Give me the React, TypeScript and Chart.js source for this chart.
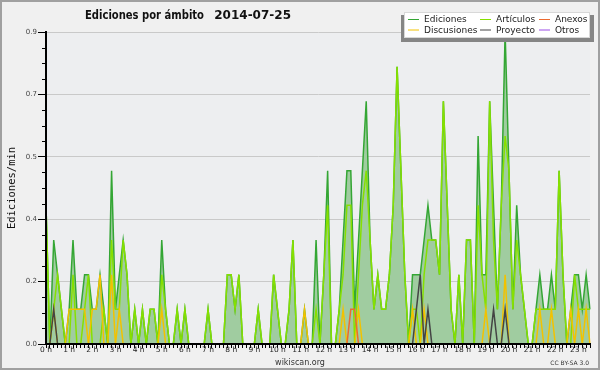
import React, { useEffect, useRef } from "react";
import { Chart, registerables } from "chart.js";

Chart.register(...registerables);

const TITLE = "Ediciones por ámbito";
const DATE = "2014-07-25";
const Y_TITLE = "Ediciones/min";
const FOOTER = "wikiscan.org";
const LICENSE = "CC BY-SA 3.0";

const HOURS = [0, 1, 2, 3, 4, 5, 6, 7, 8, 9, 10, 11, 12, 13, 14, 15, 16, 17, 18, 19, 20, 21, 22, 23];
const MINUTES = [0, 10, 20, 30, 40, 50];

const Y_MAX = 0.9;
const Y_STEP = 0.18;

// edits per minute, one value per 10-minute slot
const ediciones = [
  0.4, 0, 0.3, 0.2, 0.1, 0,
  0.1, 0.3, 0.1, 0.1, 0.2, 0.2,
  0.1, 0.1, 0.2, 0.1, 0, 0.5,
  0.1, 0.2, 0.3, 0.2, 0, 0.1,
  0, 0.1, 0, 0.1, 0.1, 0,
  0.3, 0.1, 0, 0, 0.1, 0,
  0.1, 0, 0, 0, 0, 0,
  0.1, 0, 0, 0, 0, 0.2,
  0.2, 0.1, 0.2, 0, 0, 0,
  0, 0.1, 0, 0, 0, 0.2,
  0.1, 0, 0, 0.1, 0.3, 0,
  0, 0.1, 0, 0, 0.3, 0,
  0.2, 0.5, 0, 0, 0.1, 0.3,
  0.5, 0.5, 0.1, 0.3, 0.5, 0.7,
  0.3, 0.1, 0.2, 0.1, 0.1, 0.2,
  0.4, 0.8, 0.5, 0.2, 0, 0.2,
  0.2, 0.2, 0.3, 0.4, 0.3, 0.3,
  0.2, 0.7, 0.4, 0.1, 0, 0.2,
  0, 0.3, 0.3, 0, 0.6, 0.2,
  0.2, 0.7, 0.4, 0.1, 0.4, 0.9,
  0.5, 0.1, 0.4, 0.2, 0.1, 0,
  0, 0.1, 0.2, 0.1, 0.1, 0.2,
  0.1, 0.5, 0.2, 0, 0.1, 0.2,
  0.2, 0.1, 0.2, 0.1,
];

const articulos = [
  0.4, 0, 0.1, 0.2, 0.1, 0,
  0, 0.2, 0, 0, 0.1, 0.2,
  0, 0, 0, 0.1, 0, 0.3,
  0.1, 0.1, 0.3, 0.2, 0, 0.1,
  0, 0.1, 0, 0.1, 0.1, 0,
  0.2, 0.1, 0, 0, 0.1, 0,
  0.1, 0, 0, 0, 0, 0,
  0.1, 0, 0, 0, 0, 0.2,
  0.2, 0.1, 0.2, 0, 0, 0,
  0, 0.1, 0, 0, 0, 0.2,
  0.1, 0, 0, 0.1, 0.3, 0,
  0, 0, 0, 0, 0.1, 0,
  0.2, 0.4, 0, 0, 0.1, 0.2,
  0.4, 0.4, 0, 0.2, 0.4, 0.5,
  0.3, 0.1, 0.2, 0.1, 0.1, 0.2,
  0.4, 0.8, 0.5, 0.2, 0, 0.1,
  0.1, 0, 0.2, 0.3, 0.3, 0.3,
  0.2, 0.7, 0.4, 0.1, 0, 0.2,
  0, 0.3, 0.3, 0, 0.4, 0.2,
  0.1, 0.7, 0.3, 0.1, 0.4, 0.6,
  0.5, 0.1, 0.3, 0.2, 0.1, 0,
  0, 0.1, 0.1, 0.1, 0.1, 0.1,
  0.1, 0.5, 0.2, 0, 0, 0.2,
  0.1, 0.1, 0.1, 0.1,
];

const anexos = [
  0, 0, 0, 0, 0, 0,
  0, 0, 0, 0, 0, 0,
  0, 0, 0, 0, 0, 0,
  0, 0, 0, 0, 0, 0,
  0, 0, 0, 0, 0, 0,
  0, 0, 0, 0, 0, 0,
  0, 0, 0, 0, 0, 0,
  0, 0, 0, 0, 0, 0,
  0, 0, 0, 0, 0, 0,
  0, 0, 0, 0, 0, 0,
  0, 0, 0, 0, 0, 0,
  0, 0, 0, 0, 0, 0,
  0, 0, 0, 0, 0, 0,
  0, 0.1, 0.1, 0, 0, 0,
  0, 0, 0, 0, 0, 0,
  0, 0, 0, 0, 0, 0,
  0, 0, 0, 0, 0, 0,
  0, 0, 0, 0, 0, 0,
  0, 0, 0, 0, 0, 0,
  0, 0, 0, 0, 0, 0,
  0, 0, 0, 0, 0, 0,
  0, 0, 0, 0, 0, 0,
  0, 0, 0, 0, 0, 0,
  0, 0, 0, 0,
];

const discusiones = [
  0, 0, 0.1, 0, 0, 0,
  0.1, 0.1, 0.1, 0.1, 0.1, 0,
  0.1, 0.1, 0.2, 0, 0, 0.2,
  0, 0.1, 0, 0, 0, 0,
  0, 0, 0, 0, 0, 0,
  0.1, 0, 0, 0, 0, 0,
  0, 0, 0, 0, 0, 0,
  0, 0, 0, 0, 0, 0,
  0, 0, 0, 0, 0, 0,
  0, 0, 0, 0, 0, 0,
  0, 0, 0, 0, 0, 0,
  0, 0.1, 0, 0, 0, 0,
  0, 0, 0, 0, 0, 0.1,
  0, 0, 0, 0.1, 0, 0,
  0, 0, 0, 0, 0, 0,
  0, 0, 0, 0, 0, 0.1,
  0, 0, 0.1, 0, 0, 0,
  0, 0, 0, 0, 0, 0,
  0, 0, 0, 0, 0, 0,
  0.1, 0, 0, 0, 0, 0.2,
  0, 0, 0, 0, 0, 0,
  0, 0, 0.1, 0, 0, 0.1,
  0, 0, 0, 0, 0.1, 0,
  0.1, 0, 0.1, 0,
];

const proyecto = [
  0, 0, 0.1, 0, 0, 0,
  0, 0, 0, 0, 0, 0,
  0, 0, 0, 0, 0, 0,
  0, 0, 0, 0, 0, 0,
  0, 0, 0, 0, 0, 0,
  0, 0, 0, 0, 0, 0,
  0, 0, 0, 0, 0, 0,
  0, 0, 0, 0, 0, 0,
  0, 0, 0, 0, 0, 0,
  0, 0, 0, 0, 0, 0,
  0, 0, 0, 0, 0, 0,
  0, 0, 0, 0, 0, 0,
  0, 0, 0, 0, 0, 0,
  0, 0, 0, 0, 0, 0,
  0, 0, 0, 0, 0, 0,
  0, 0, 0, 0, 0, 0,
  0.1, 0.2, 0, 0.1, 0, 0,
  0, 0, 0, 0, 0, 0,
  0, 0, 0, 0, 0, 0,
  0, 0, 0.1, 0, 0, 0.1,
  0, 0, 0, 0, 0, 0,
  0, 0, 0, 0, 0, 0,
  0, 0, 0, 0, 0, 0,
  0, 0, 0, 0,
];

const otros = [
  0, 0, 0, 0, 0, 0, 0, 0, 0, 0, 0, 0, 0, 0, 0, 0, 0, 0, 0, 0, 0, 0, 0, 0,
  0, 0, 0, 0, 0, 0, 0, 0, 0, 0, 0, 0, 0, 0, 0, 0, 0, 0, 0, 0, 0, 0, 0, 0,
  0, 0, 0, 0, 0, 0, 0, 0, 0, 0, 0, 0, 0, 0, 0, 0, 0, 0, 0, 0, 0, 0, 0, 0,
  0, 0, 0, 0, 0, 0, 0, 0, 0, 0, 0, 0, 0, 0, 0, 0, 0, 0, 0, 0, 0, 0, 0, 0,
  0, 0, 0, 0, 0, 0, 0, 0, 0, 0, 0, 0, 0, 0, 0, 0, 0, 0, 0, 0, 0, 0, 0, 0,
  0, 0, 0, 0, 0, 0, 0, 0, 0, 0, 0, 0, 0, 0, 0, 0, 0, 0,
];

const SERIES_NAMES = ["Ediciones", "Artículos", "Anexos", "Discusiones", "Proyecto", "Otros"];
const SERIES_COLORS = ["#34a634", "#86e000", "#ec6a30", "#f2c200", "#444444", "#9b4de6"];
const FILL_COLOR = "#a0cca0";

const SLOTS = HOURS.flatMap((h) => MINUTES.map((m) => `${h}:${m < 10 ? "0" + m : m}`)).slice(0, ediciones.length);

function fitText(ctx: CanvasRenderingContext2D, text: string, x: number, y: number, width: number, font: string) {
  ctx.save();
  ctx.font = font;
  ctx.textAlign = "left";
  const w = ctx.measureText(text).width;
  ctx.translate(x, y);
  ctx.scale(width / w, 1);
  ctx.fillText(text, 0, 0);
  ctx.restore();
}

export default function App() {
  const ref = useRef<HTMLCanvasElement>(null);

  useEffect(() => {
    document.body.style.margin = "0";
    const canvas = ref.current;
    if (!canvas) return;

    const decor = {
      id: "decor",
      beforeDraw(chart: any) {
        const { ctx, chartArea: a } = chart;
        ctx.save();
        ctx.fillStyle = "#f0f0f0";
        ctx.fillRect(0, 0, chart.width, chart.height);
        ctx.fillStyle = "#edeef0";
        ctx.fillRect(a.left, a.top, a.right - a.left, a.bottom - a.top);
        ctx.restore();
      },
      afterDraw(chart: any) {
        const { ctx, chartArea: a } = chart;
        const y = chart.scales.y;
        ctx.save();
        // minor y ticks
        ctx.strokeStyle = "#000";
        ctx.lineWidth = 1;
        for (let k = 0; k <= 20; k++) {
          if (k % 4 === 0) continue;
          const py = Math.round(y.getPixelForValue((Y_STEP / 4) * k)) + 0.5;
          ctx.beginPath();
          ctx.moveTo(a.left - 4, py);
          ctx.lineTo(a.left, py);
          ctx.stroke();
        }
        // frame
        ctx.strokeStyle = "#a0a0a0";
        ctx.lineWidth = 2;
        ctx.strokeRect(1, 1, chart.width - 2, chart.height - 2);
        // title
        ctx.fillStyle = "#111";
        ctx.textBaseline = "alphabetic";
        fitText(ctx, TITLE, 85, 18.5, 119, "bold 12px 'DejaVu Sans'");
        ctx.font = "bold 12px 'DejaVu Sans'";
        ctx.textAlign = "right";
        ctx.fillText(DATE, 291, 18.5);
        // y title
        ctx.save();
        ctx.translate(12, 188);
        ctx.rotate(-Math.PI / 2);
        ctx.textAlign = "center";
        ctx.textBaseline = "middle";
        ctx.font = "10.5px 'DejaVu Sans Mono'";
        ctx.fillText(Y_TITLE, 0, 0);
        ctx.restore();
        // legend
        ctx.fillStyle = "#858585";
        ctx.fillRect(401, 15, 193, 27);
        ctx.fillStyle = "#ffffff";
        ctx.fillRect(404, 12, 186, 26);
        ctx.strokeStyle = "#d8d8d8";
        ctx.lineWidth = 1;
        ctx.strokeRect(404.5, 12.5, 185, 25);
        const colX = [408, 480, 539];
        const rowY = [19, 29.5];
        ctx.font = "9px 'DejaVu Sans'";
        ctx.textAlign = "left";
        ctx.textBaseline = "alphabetic";
        SERIES_NAMES.forEach((name, idx) => {
          const cx = colX[idx % 3];
          const ry = rowY[Math.floor(idx / 3)];
          ctx.strokeStyle = SERIES_COLORS[idx];
          ctx.lineWidth = 1;
          ctx.beginPath();
          ctx.moveTo(cx, ry + 0.5);
          ctx.lineTo(cx + 11, ry + 0.5);
          ctx.stroke();
          ctx.fillStyle = "#222";
          ctx.fillText(name, cx + 16, ry + 3.3);
        });
        // footer
        ctx.fillStyle = "#333";
        ctx.font = "8px 'DejaVu Sans'";
        ctx.textAlign = "center";
        ctx.fillText(FOOTER, 300, 364.5);
        ctx.font = "6px 'DejaVu Sans'";
        ctx.textAlign = "right";
        ctx.fillText(LICENSE, 589, 365);
        ctx.restore();
      },
    };

    const mk = (i: number, data: number[], extra: any = {}) => ({
      label: SERIES_NAMES[i],
      data,
      borderColor: SERIES_COLORS[i],
      backgroundColor: SERIES_COLORS[i],
      borderWidth: 1.5,
      pointRadius: 0,
      tension: 0,
      fill: false,
      ...extra,
    });

    const chart = new Chart(canvas, {
      type: "line",
      data: {
        labels: SLOTS,
        datasets: [
          mk(5, otros),
          mk(4, proyecto),
          mk(2, anexos),
          mk(3, discusiones),
          mk(1, articulos),
          mk(0, ediciones, { fill: "origin", backgroundColor: FILL_COLOR }),
        ],
      },
      options: {
        responsive: false,
        devicePixelRatio: 1,
        animation: false,
        layout: { padding: { top: 32, right: 10, left: 0, bottom: 0 } },
        plugins: {
          legend: { display: false },
          title: { display: false },
          tooltip: { enabled: false },
        },
        scales: {
          x: {
            type: "category",
            offset: false,
            grid: { drawOnChartArea: false, drawTicks: true, tickLength: 4, tickColor: "#000", tickWidth: 1 },
            border: { display: true, color: "#000", width: 2, z: 1 },
            ticks: {
              autoSkip: false,
              maxRotation: 0,
              minRotation: 0,
              padding: -2,
              color: "#222",
              font: { family: "DejaVu Sans", size: 7.5 },
              callback: (_v: any, i: number) => (i % MINUTES.length === 0 ? `${HOURS[i / MINUTES.length]} h` : ""),
            },
            afterFit: (s: any) => {
              s.height = 26;
            },
          },
          y: {
            min: 0,
            max: Y_MAX,
            grid: { color: "#c9c9c9", lineWidth: 1, tickLength: 8, tickColor: "#000", drawTicks: true },
            border: { display: true, color: "#000", width: 2, z: 1 },
            ticks: {
              stepSize: Y_STEP,
              padding: 1,
              color: "#444",
              font: { family: "DejaVu Sans", size: 7 },
              callback: (v: any) => Number(v).toFixed(1),
            },
            afterFit: (s: any) => {
              s.width = 46;
            },
          },
        },
      },
      plugins: [decor],
    });

    return () => chart.destroy();
  }, []);

  return (
    <div style={{ width: 600, height: 370 }}>
      <canvas ref={ref} width={600} height={370} style={{ display: "block" }} />
    </div>
  );
}
